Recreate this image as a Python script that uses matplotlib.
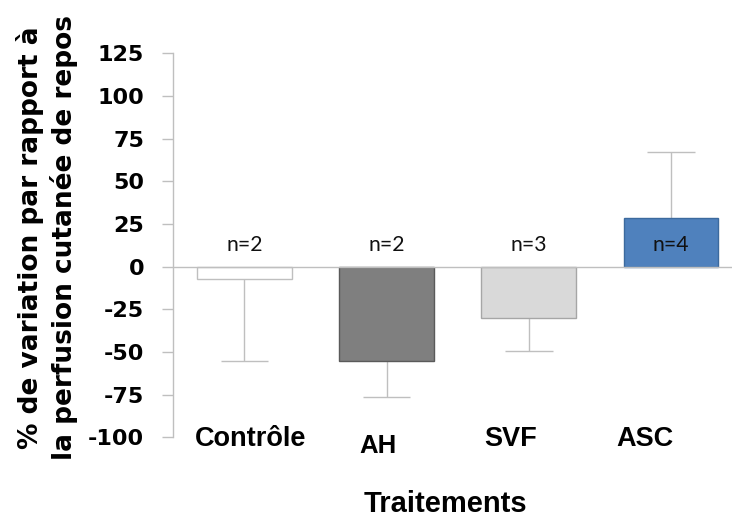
import matplotlib
matplotlib.use("Agg")
import matplotlib.pyplot as plt
import numpy as np

# ---- data ----
categories = ["Contrôle", "AH", "SVF", "ASC"]
values = [-7.2, -55.1, -30.1, 28.7]
errors = [48.3, 21.2, 19.1, 38.5]
n_labels = ["n=2", "n=2", "n=3", "n=4"]
yticks = [-100, -75, -50, -25, 0, 25, 50, 75, 100, 125]

# ---- style ----
face_colors = ["#ffffff", "#7f7f7f", "#d9d9d9", "#4f81bd"]
edge_colors = ["#bfbfbf", "#5a5a5a", "#a6a6a6", "#3c6a9e"]
label_dx = [0.046, -0.06, -0.13, -0.185]      # manual label placement (Excel text boxes)
label_y = [-0.0235, -0.042, -0.0235, -0.0235]  # axes fraction (baseline)
label_size = [19.5, 18.5, 19.5, 19.5]
grey = "#bfbfbf"

fig = plt.figure(figsize=(7.32, 5.24), dpi=100)
ax = fig.add_axes([0.2368, 0.1655, 1.0139 - 0.2368, 0.8983 - 0.1655])

x = np.arange(len(categories))
ax.bar(x, values, width=0.667, color=face_colors, edgecolor=edge_colors,
       linewidth=1.0, zorder=3)

vals = np.array(values)
errs = np.array(errors)
ends = vals + np.sign(vals) * errs
ax.vlines(x, vals, ends, color=grey, linewidth=1.0, zorder=2)
ax.hlines(ends, x - 0.167, x + 0.167, color=grey, linewidth=1.0, zorder=2)

ax.axhline(0, color=grey, linewidth=1.0, zorder=4)

for xi, lab in zip(x, n_labels):
    ax.text(xi, 9.4, lab, ha="center", va="baseline", fontsize=15.2,
            family="Lato", color="#111111", zorder=5)

ax.set_xlim(-0.5, len(categories) - 0.5)
ax.set_ylim(-100, 125)
ax.set_yticks(yticks)
ax.set_yticklabels([str(t) for t in yticks], fontsize=16, fontweight="bold",
                   family="DejaVu Sans")
ax.tick_params(axis="y", direction="out", length=8, width=1.0, color=grey, pad=13)
ax.set_xticks([])

for s in ["top", "right", "bottom"]:
    ax.spines[s].set_visible(False)
ax.spines["left"].set_color(grey)
ax.spines["left"].set_linewidth(1.0)

xt = ax.get_xaxis_transform()
for xi, lab, dx, ly, fs in zip(x, categories, label_dx, label_y, label_size):
    ax.text(xi + dx, ly, lab, transform=xt, ha="center", va="baseline",
            fontsize=fs, fontweight="bold", family="Liberation Sans",
            clip_on=False)

fig.text(0.609, 0.0235, "Traitements", ha="center", va="baseline", fontsize=21,
         fontweight="bold", family="Liberation Sans")

fig.text(30 / 732, 0.5468, "% de variation par rapport à", rotation=90,
         ha="center", va="center", fontsize=19, fontweight="bold",
         family="DejaVu Sans")
fig.text(64 / 732, 0.5468, "la perfusion cutanée de repos", rotation=90,
         ha="center", va="center", fontsize=19, fontweight="bold",
         family="DejaVu Sans")

fig.savefig("out.png", dpi=100)
